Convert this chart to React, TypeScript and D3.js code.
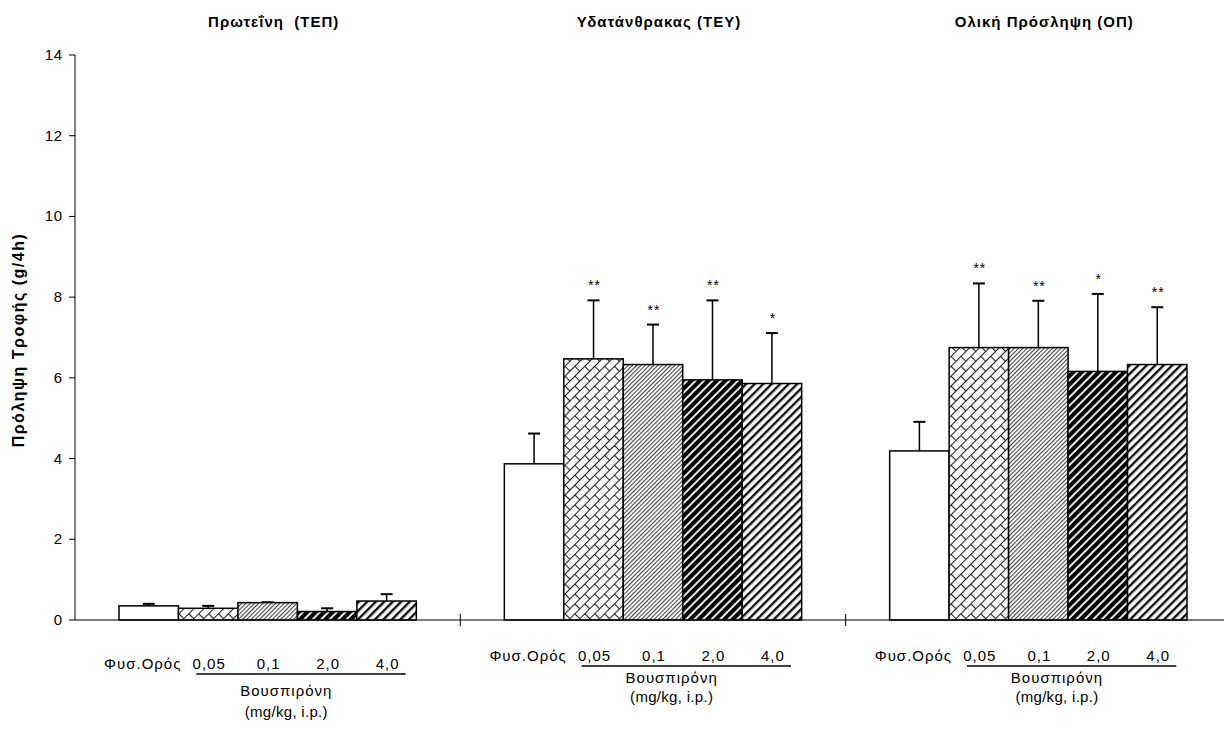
import React from "react";
import * as d3 from "d3";

// ---- Data ----
const panels = ["Πρωτεΐνη  (ΤΕΠ)", "Υδατάνθρακας (ΤΕΥ)", "Ολική Πρόσληψη (ΟΠ)"];
const doses = ["Φυσ.Ορός", "0,05", "0,1", "2,0", "4,0"];
const proteinMeans = [0.35, 0.29, 0.43, 0.21, 0.47];
const proteinSD = [0.05, 0.06, 0.01, 0.08, 0.17];
const carbMeans = [3.87, 6.47, 6.33, 5.95, 5.86];
const carbSD = [0.75, 1.45, 0.99, 1.97, 1.25];
const totalMeans = [4.19, 6.75, 6.75, 6.16, 6.33];
const totalSD = [0.72, 1.59, 1.16, 1.92, 1.42];
const proteinSig = ["", "", "", "", ""];
const carbSig = ["", "**", "**", "**", "*"];
const totalSig = ["", "**", "**", "*", "**"];
const yTicks = [0, 2, 4, 6, 8, 10, 12, 14];
const yLabel = "Πρόληψη Τροφής (g/4h)";
const drugLabel = "Βουσπιρόνη";
const unitLabel = "(mg/kg, i.p.)";

const means = [proteinMeans, carbMeans, totalMeans];
const sds = [proteinSD, carbSD, totalSD];
const sigs = [proteinSig, carbSig, totalSig];

// ---- Layout ----
const W = 1224;
const H = 729;
const X0 = 75;
const X1 = 1231;
const Y0 = 620;
const Y1 = 55;
const labelBase = [669, 661, 661];
const drugBase = [696, 683, 683];
const unitBase = [717, 702, 702];
const fills = ["#fff", "url(#pBrick)", "url(#pFine)", "url(#pDark)", "url(#pMed)"];
const FONT = "Arial, 'Liberation Sans', sans-serif";

export default function App() {
  const x = d3.scaleBand<string>().domain(panels).range([X0, X1]).padding(0);
  const xi = d3
    .scaleBand<string>()
    .domain(doses)
    .range([0, x.bandwidth()])
    .paddingInner(0)
    .paddingOuter(0.74);
  const y = d3.scaleLinear().domain([0, 14]).range([Y0, Y1]);
  const bw = xi.bandwidth();

  return (
    <svg
      width={W}
      height={H}
      style={{ position: "fixed", left: 0, top: 0, background: "#fff" }}
      fontFamily={FONT}
    >
      <defs>
        <pattern id="pBrick" patternUnits="userSpaceOnUse" width={14} height={14} patternTransform="rotate(-45)">
          <rect width={14} height={14} fill="#fff" />
          <line x1={0} y1={0.5} x2={14} y2={0.5} stroke="#222" strokeWidth={1.1} />
          <line x1={0} y1={7.5} x2={14} y2={7.5} stroke="#222" strokeWidth={1.1} />
          <line x1={0.5} y1={0} x2={0.5} y2={7} stroke="#222" strokeWidth={1.1} />
          <line x1={7.5} y1={7} x2={7.5} y2={14} stroke="#222" strokeWidth={1.1} />
        </pattern>
        <pattern id="pFine" patternUnits="userSpaceOnUse" width={3} height={3} patternTransform="rotate(45)">
          <rect width={3} height={3} fill="#fff" />
          <rect width={1.1} height={3} fill="#444" />
        </pattern>
        <pattern id="pDark" patternUnits="userSpaceOnUse" width={6} height={6} patternTransform="rotate(45)">
          <rect width={6} height={6} fill="#fff" />
          <rect width={4.2} height={6} fill="#000" />
        </pattern>
        <pattern id="pMed" patternUnits="userSpaceOnUse" width={6} height={6} patternTransform="rotate(45)">
          <rect width={6} height={6} fill="#fff" />
          <rect width={2.4} height={6} fill="#111" />
        </pattern>
      </defs>

      {/* Titles */}
      {panels.map((p) => (
        <text
          key={p}
          x={(x(p) ?? 0) + x.bandwidth() / 2 + 6}
          y={27}
          textAnchor="middle"
          fontSize={15}
          fontWeight="bold"
          letterSpacing={1}
          style={{ whiteSpace: "pre" }}
        >
          {p}
        </text>
      ))}

      {/* Y axis */}
      <line x1={X0} x2={X0} y1={y(14)} y2={y(0)} stroke="#000" strokeWidth={1} />
      {yTicks.map((t) => (
        <g key={t}>
          <line x1={X0 - 6} x2={X0} y1={y(t)} y2={y(t)} stroke="#000" strokeWidth={1} />
          <text x={X0 - 12} y={y(t) + 5} textAnchor="end" fontSize={15} letterSpacing={0.8}>
            {t}
          </text>
        </g>
      ))}
      <text
        transform={`translate(24,340) rotate(-90)`}
        textAnchor="middle"
        fontSize={16}
        fontWeight="bold"
        letterSpacing={1.5}
      >
        {yLabel}
      </text>

      {/* Bars */}
      {panels.map((p, gi) => {
        const gx = x(p) ?? 0;
        return (
          <g key={p}>
            {doses.map((d, i) => {
              const bx = gx + (xi(d) ?? 0);
              const m = means[gi][i];
              const top = m + sds[gi][i];
              const cx = bx + bw / 2;
              return (
                <g key={d}>
                  <line x1={cx} x2={cx} y1={y(m)} y2={y(top)} stroke="#000" strokeWidth={1.5} />
                  <line x1={cx - 6} x2={cx + 6} y1={y(top)} y2={y(top)} stroke="#000" strokeWidth={2} />
                  <rect
                    x={bx}
                    y={y(m)}
                    width={bw}
                    height={y(0) - y(m)}
                    fill={fills[i]}
                    stroke="#000"
                    strokeWidth={1.5}
                  />
                  {sigs[gi][i] && (
                    <text x={cx + 1} y={y(top) - 10} textAnchor="middle" fontSize={14} letterSpacing={1} fill="#000">
                      {sigs[gi][i]}
                    </text>
                  )}
                </g>
              );
            })}
          </g>
        );
      })}

      {/* X axis */}
      <line x1={X0} x2={X1} y1={y(0)} y2={y(0)} stroke="#000" strokeWidth={1.2} />
      {panels.slice(1).map((p) => (
        <line key={p} x1={x(p)} x2={x(p)} y1={y(0) - 6} y2={y(0) + 6} stroke="#000" strokeWidth={1} />
      ))}

      {/* Category labels */}
      {panels.map((p, gi) => {
        const gx = x(p) ?? 0;
        const ux1 = gx + (xi(doses[1]) ?? 0) + bw * 0.3;
        const ux2 = gx + (xi(doses[4]) ?? 0) + bw * 0.82;
        const midX = ux1 + (ux2 - ux1) * 0.43;
        return (
          <g key={p} fontSize={15} letterSpacing={1}>
            {doses.map((d, i) => (
              <text
                key={d}
                x={gx + (xi(d) ?? 0) + bw / 2 + (i === 0 ? -6 : 1)}
                y={labelBase[gi]}
                textAnchor="middle"
              >
                {d}
              </text>
            ))}
            <line x1={ux1} x2={ux2} y1={labelBase[gi] + 5} y2={labelBase[gi] + 5} stroke="#000" strokeWidth={1.5} />
            <text x={midX} y={drugBase[gi]} textAnchor="middle">
              {drugLabel}
            </text>
            <text x={midX} y={unitBase[gi]} textAnchor="middle" letterSpacing={0.3}>
              {unitLabel}
            </text>
          </g>
        );
      })}
    </svg>
  );
}
